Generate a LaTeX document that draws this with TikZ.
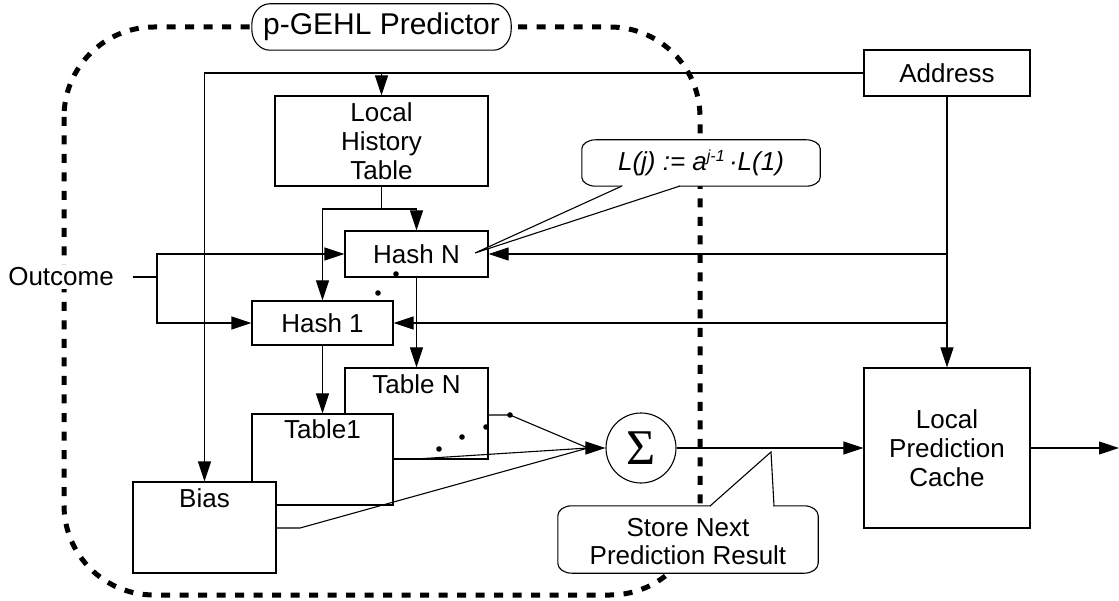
\documentclass[tikz,border=0pt]{standalone}
\usepackage{fontspec}
\setmainfont{Liberation Sans}
\newfontfamily\sigmafont{Liberation Serif}
\usetikzlibrary{arrows.meta,calc}

\tikzset{
  wire/.style={line width=1.1pt},
  arr/.style={wire,-{Triangle[length=20pt,width=13pt]}},
  frame/.style={line width=5pt,dash pattern=on 9pt off 9.5pt},
  blk/.style={draw,line width=1.1pt,fill=white,inner sep=0pt,align=center,
    font=\fontsize{26}{29}\selectfont},
  txt/.style={inner sep=0pt,align=center,font=\fontsize{26}{29}\selectfont},
  bubble/.style={inner sep=0pt,align=center,font=\fontsize{26}{28}\selectfont},
}

% outline of a speech bubble round a node: straight sides, elliptic corners
\newcommand\bubbleline[3]{%
  \draw[wire,fill=white] let \p1=(#1.south west), \p2=(#1.north east) in
    (\x1,\y1+#3) -- (\x1,\y2-#3)
    arc[start angle=180,end angle=90,x radius=#2,y radius=#3]
    -- (\x2-#2,\y2)
    arc[start angle=90,end angle=0,x radius=#2,y radius=#3]
    -- (\x2,\y1+#3)
    arc[start angle=0,end angle=-90,x radius=#2,y radius=#3]
    -- (\x1+#2,\y1)
    arc[start angle=-90,end angle=-180,x radius=#2,y radius=#3] -- cycle;}

\begin{document}
\begin{tikzpicture}[x=1pt,y=-1pt]
\useasboundingbox (0,0) rectangle (1119,601);

% ---- blocks ----
\node[blk,minimum width=213pt,minimum height=90pt] (lht) at (381.5,141) {Local\\History\\Table};
\node[blk,minimum width=143pt,minimum height=46pt] (hashN) at (416.5,254) {Hash N};
\node[blk,minimum width=141pt,minimum height=44pt] (hash1) at (322.5,323) {Hash 1};
\node[blk,minimum width=143pt,minimum height=91pt] (tableN) at (416.5,413.5) {};
\node[txt] (tableNl) at ([yshift=-17pt]tableN.north) {Table N};
\node[blk,minimum width=141pt,minimum height=91pt] (table1) at (322.5,459.5) {};
\node[txt] (table1l) at ([yshift=-16pt]table1.north) {Table1};
\node[blk,minimum width=143pt,minimum height=91pt] (bias) at (204.5,527.5) {};
\node[txt] (biasl) at ([yshift=-17pt]bias.north) {Bias};
\node[blk,minimum width=166pt,minimum height=46pt] (address) at (947,73) {Address};
\node[blk,minimum width=166pt,minimum height=160pt] (lpc) at (947,448) {Local\\Prediction\\Cache};
\node[draw,circle,line width=1.1pt,fill=white,minimum size=70pt,inner sep=0pt] (sig) at (641,448)
  {\sigmafont\fontsize{50}{50}\selectfont Σ};

% ---- connectors ----
\coordinate (split) at (381.5,209);
\coordinate (ojoin) at (157,277);
\coordinate (sigin) at (588,448);
\coordinate (tNo) at (510,415);
\coordinate (t1o) at (416,459);
\coordinate (bo) at (300,528);
\coordinate (out) at (1119,448);

\draw[arr] (address.west) -| (bias.north);
\draw[arr] (lht.north |- address.west) -- (lht.north);
\draw[wire] (lht.south) -- (split);
\draw[arr] (split) -| (hashN.north);
\draw[arr] (split) -| (hash1.north);

\draw[arr] (ojoin) |- (hashN.west);
\draw[arr] (ojoin) |- (hash1.west);

\draw[arr] (address.south) -- (lpc.north);
\draw[arr] (address.south |- hashN.east) -- (hashN.east);
\draw[arr] (address.south |- hash1.east) -- (hash1.east);

\draw[arr] (hashN.south) -- (tableN.north);
\draw[arr] (hash1.south) -- (table1.north);

\draw[wire] (tNo -| tableN.east) -- (tNo) -- (sigin);
\draw[wire] (t1o -| table1.east) -- (t1o) -- (sigin);
\draw[wire] (bo -| bias.east) -- (bo) -- (sigin);
\draw[arr] (sigin) -- (sig.west);

\draw[arr] (sig.east) -- (lpc.west);
\draw[arr] (lpc.east) -- (out);

% dots standing for the tables and hashes in between
\foreach \p in {(396,274),(378,293),(439,449),(462,437),(486,427),(510,415)}
  \fill \p circle (2.8pt);

% ---- predictor boundary ----
\draw[frame,rounded corners=90pt] (64,27) rectangle (700,595);

% ---- outcome input ----
\node[txt,fill=white,anchor=east,inner xsep=10pt,inner ysep=3pt] (outcome) at (124,277) {Outcome};
\draw[wire] (outcome.east) ++(9pt,0) coordinate (oin) -- (ojoin);

% ---- labels and notes ----
\node[bubble,minimum width=259pt,minimum height=46pt,font=\fontsize{30}{32}\selectfont] (pgehl) at (381.5,27) {};
\bubbleline{pgehl}{18pt}{21pt}
\node[txt,font=\fontsize{30}{32}\selectfont] (pgehlt) at (pgehl) {p-GEHL Predictor};

\node[bubble,minimum width=238pt,minimum height=46pt] (lj) at (701,163) {};
\bubbleline{lj}{14pt}{9pt}
\node[txt] (ljt) at (lj) {\itshape L(j) := a\raisebox{9pt}{\fontsize{16}{16}\selectfont j-1}\,·L(1)};
\coordinate (ljtip) at (475,253);
\coordinate (ljA) at (622,186);
\coordinate (ljB) at (680,186);
\fill[white] (ljA) -- (ljtip) -- (ljB) -- cycle;
\draw[white,line width=2.5pt] ([xshift=1pt]ljA) -- ([xshift=-1pt]ljB);
\draw[wire] (ljA) -- (ljtip) -- (ljB);

\node[bubble,minimum width=260pt,minimum height=67pt] (store) at (688,539.5) {};
\bubbleline{store}{14pt}{10pt}
\node[txt,font=\fontsize{26}{28}\selectfont] (storet) at ([yshift=-2pt]store) {Store Next\\Prediction Result};
\coordinate (stA) at (710,506);
\coordinate (sttip) at (771,452);
\coordinate (stB) at (774,506);
\fill[white] (stA) -- (sttip) -- (stB) -- cycle;
\draw[white,line width=2.5pt] ([xshift=1pt]stA) -- ([xshift=-1pt]stB);
\draw[wire] (stA) -- (sttip) -- (stB);
\end{tikzpicture}
\end{document}
